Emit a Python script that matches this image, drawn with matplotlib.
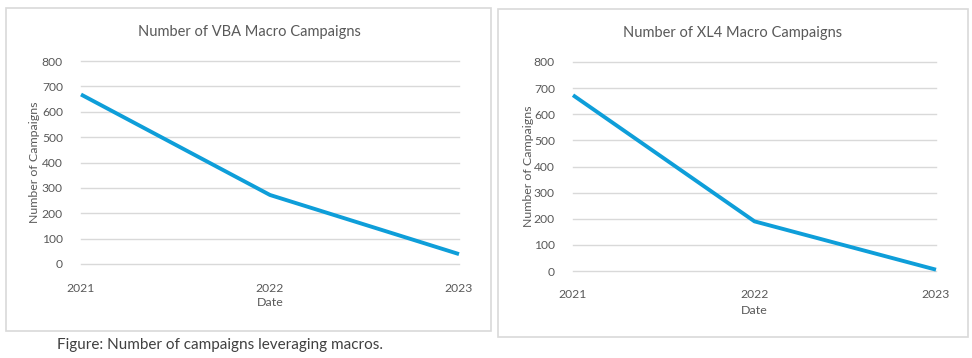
import matplotlib
matplotlib.use("Agg")
import matplotlib.pyplot as plt
from matplotlib.patches import Rectangle

years = ["2021", "2022", "2023"]
vba_counts = [668, 272, 39]
xl4_counts = [673, 190, 5]
titles = ["Number of VBA Macro Campaigns", "Number of XL4 Macro Campaigns"]
yticks = [0, 100, 200, 300, 400, 500, 600, 700, 800]
caption = "Figure: Number of campaigns leveraging macros."

W, H = 972, 358
plt.rcParams['font.family'] = ['Lato', 'DejaVu Sans']
fig = plt.figure(figsize=(W/100, H/100), dpi=100)

LINE = "#0E9ED9"
GRID = "#D9D9D9"
TXT = "#595959"

def px(x0, y0, x1, y1):
    return [x0/W, 1 - y1/H, (x1-x0)/W, (y1-y0)/H]

def box(x0, y0, x1, y1):
    fig.patches.append(Rectangle((x0/W, 1-y1/H), (x1-x0)/W, (y1-y0)/H,
                                 transform=fig.transFigure, fill=False,
                                 edgecolor="#D9D9D9", linewidth=1.2))

panels = [
    dict(box=(6, 8, 491, 331), plot=(81, 61, 459, 264), data=vba_counts,
         title_xy=(249, 32), ylab_x=35, date_y=303, tick_y=282, title=titles[0]),
    dict(box=(498, 9, 968, 337), plot=(573, 62, 936, 271), data=xl4_counts,
         title_xy=(733, 33), ylab_x=528, date_y=310, tick_y=288, title=titles[1]),
]

for p in panels:
    box(*p["box"])
    ax = fig.add_axes(px(*p["plot"]))
    xs = list(range(len(years)))
    ax.plot(xs, p["data"], color=LINE, linewidth=2.8, solid_capstyle="butt",
            clip_on=False, zorder=3)
    ax.set_xlim(0, len(years)-1)
    ax.set_ylim(0, 800)
    ax.set_yticks(yticks)
    ax.set_yticklabels([str(v) for v in yticks])
    ax.set_xticks(xs)
    ax.set_xticklabels(years)
    ax.yaxis.grid(True, color=GRID, linewidth=1)
    for gl in ax.get_ygridlines():
        gl.set_clip_on(False)
    ax.set_axisbelow(True)
    for s in ax.spines.values():
        s.set_visible(False)
    ax.tick_params(axis="both", length=0, labelsize=8.7, labelcolor=TXT)
    ax.tick_params(axis="y", pad=13)
    ax.tick_params(axis="x", pad=(p["tick_y"] - p["plot"][3]) - 4)
    fig.text(p["title_xy"][0]/W, 1 - p["title_xy"][1]/H, p["title"],
             ha="center", va="center", fontsize=10.5, color=TXT)
    fig.text(p["ylab_x"]/W, 1 - ((p["plot"][1]+p["plot"][3])/2)/H, "Number of Campaigns",
             rotation=90, ha="center", va="center", fontsize=8.9, color=TXT)
    fig.text(((p["plot"][0]+p["plot"][2])/2)/W, 1 - p["date_y"]/H, "Date",
             ha="center", va="center", fontsize=8.9, color=TXT)

fig.text(57/W, 1 - 345/H, caption, ha="left", va="center", fontsize=11, color="#404040")

fig.savefig("out.png", dpi=100, facecolor="white")
